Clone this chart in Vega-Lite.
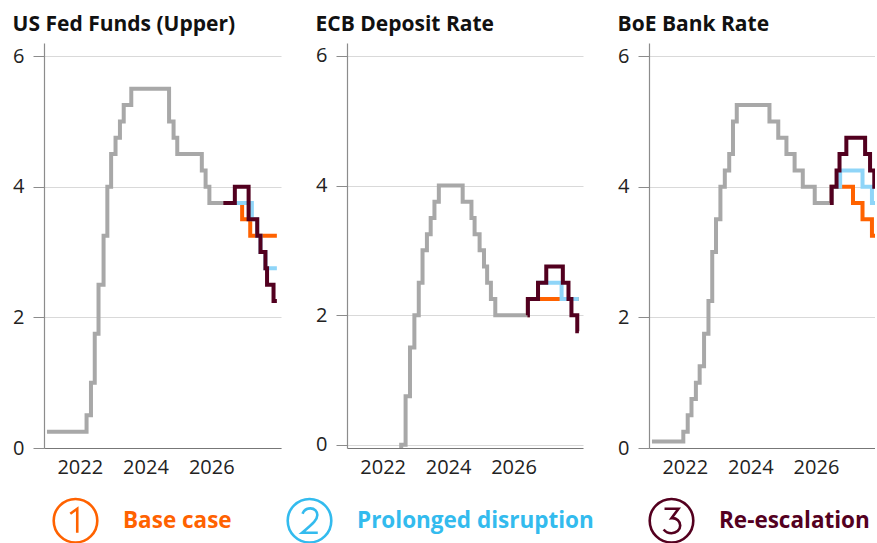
{
  "$schema": "https://vega.github.io/schema/vega-lite/v6.json",
  "padding": {"left": 12, "top": 14, "right": 0, "bottom": 0},
  "spacing": 34,
  "datasets": {
    "rates": [
      {"bank": "Fed", "scenario": "Actual", "date": "2021-01-01", "rate": 0.25},
      {"bank": "Fed", "scenario": "Actual", "date": "2022-03-17", "rate": 0.5},
      {"bank": "Fed", "scenario": "Actual", "date": "2022-05-05", "rate": 1.0},
      {"bank": "Fed", "scenario": "Actual", "date": "2022-06-16", "rate": 1.75},
      {"bank": "Fed", "scenario": "Actual", "date": "2022-07-28", "rate": 2.5},
      {"bank": "Fed", "scenario": "Actual", "date": "2022-09-22", "rate": 3.25},
      {"bank": "Fed", "scenario": "Actual", "date": "2022-11-03", "rate": 4.0},
      {"bank": "Fed", "scenario": "Actual", "date": "2022-12-15", "rate": 4.5},
      {"bank": "Fed", "scenario": "Actual", "date": "2023-02-02", "rate": 4.75},
      {"bank": "Fed", "scenario": "Actual", "date": "2023-03-23", "rate": 5.0},
      {"bank": "Fed", "scenario": "Actual", "date": "2023-05-04", "rate": 5.25},
      {"bank": "Fed", "scenario": "Actual", "date": "2023-07-27", "rate": 5.5},
      {"bank": "Fed", "scenario": "Actual", "date": "2024-09-19", "rate": 5.0},
      {"bank": "Fed", "scenario": "Actual", "date": "2024-11-08", "rate": 4.75},
      {"bank": "Fed", "scenario": "Actual", "date": "2024-12-19", "rate": 4.5},
      {"bank": "Fed", "scenario": "Actual", "date": "2025-09-18", "rate": 4.25},
      {"bank": "Fed", "scenario": "Actual", "date": "2025-10-30", "rate": 4.0},
      {"bank": "Fed", "scenario": "Actual", "date": "2025-12-11", "rate": 3.75},
      {"bank": "Fed", "scenario": "Actual", "date": "2026-05-15", "rate": 3.75},
      {"bank": "Fed", "scenario": "Base case", "date": "2026-05-15", "rate": 3.75},
      {"bank": "Fed", "scenario": "Base case", "date": "2026-12-10", "rate": 3.5},
      {"bank": "Fed", "scenario": "Base case", "date": "2027-03-10", "rate": 3.25},
      {"bank": "Fed", "scenario": "Base case", "date": "2027-12-31", "rate": 3.25},
      {"bank": "Fed", "scenario": "Prolonged disruption", "date": "2026-05-15", "rate": 3.75},
      {"bank": "Fed", "scenario": "Prolonged disruption", "date": "2027-03-28", "rate": 3.5},
      {"bank": "Fed", "scenario": "Prolonged disruption", "date": "2027-05-27", "rate": 3.25},
      {"bank": "Fed", "scenario": "Prolonged disruption", "date": "2027-07-02", "rate": 3.0},
      {"bank": "Fed", "scenario": "Prolonged disruption", "date": "2027-08-26", "rate": 2.75},
      {"bank": "Fed", "scenario": "Prolonged disruption", "date": "2027-12-31", "rate": 2.75},
      {"bank": "Fed", "scenario": "Re-escalation", "date": "2026-05-15", "rate": 3.75},
      {"bank": "Fed", "scenario": "Re-escalation", "date": "2026-09-20", "rate": 4.0},
      {"bank": "Fed", "scenario": "Re-escalation", "date": "2027-02-20", "rate": 3.5},
      {"bank": "Fed", "scenario": "Re-escalation", "date": "2027-05-27", "rate": 3.25},
      {"bank": "Fed", "scenario": "Re-escalation", "date": "2027-07-02", "rate": 3.0},
      {"bank": "Fed", "scenario": "Re-escalation", "date": "2027-08-26", "rate": 2.75},
      {"bank": "Fed", "scenario": "Re-escalation", "date": "2027-09-13", "rate": 2.5},
      {"bank": "Fed", "scenario": "Re-escalation", "date": "2027-11-24", "rate": 2.25},
      {"bank": "Fed", "scenario": "Re-escalation", "date": "2027-12-31", "rate": 2.25},

      {"bank": "ECB", "scenario": "Actual", "date": "2021-01-01", "rate": -0.5},
      {"bank": "ECB", "scenario": "Actual", "date": "2022-07-27", "rate": 0.0},
      {"bank": "ECB", "scenario": "Actual", "date": "2022-09-14", "rate": 0.75},
      {"bank": "ECB", "scenario": "Actual", "date": "2022-11-02", "rate": 1.5},
      {"bank": "ECB", "scenario": "Actual", "date": "2022-12-21", "rate": 2.0},
      {"bank": "ECB", "scenario": "Actual", "date": "2023-02-08", "rate": 2.5},
      {"bank": "ECB", "scenario": "Actual", "date": "2023-03-22", "rate": 3.0},
      {"bank": "ECB", "scenario": "Actual", "date": "2023-05-10", "rate": 3.25},
      {"bank": "ECB", "scenario": "Actual", "date": "2023-06-21", "rate": 3.5},
      {"bank": "ECB", "scenario": "Actual", "date": "2023-08-02", "rate": 3.75},
      {"bank": "ECB", "scenario": "Actual", "date": "2023-09-20", "rate": 4.0},
      {"bank": "ECB", "scenario": "Actual", "date": "2024-06-12", "rate": 3.75},
      {"bank": "ECB", "scenario": "Actual", "date": "2024-09-18", "rate": 3.5},
      {"bank": "ECB", "scenario": "Actual", "date": "2024-10-23", "rate": 3.25},
      {"bank": "ECB", "scenario": "Actual", "date": "2024-12-18", "rate": 3.0},
      {"bank": "ECB", "scenario": "Actual", "date": "2025-02-05", "rate": 2.75},
      {"bank": "ECB", "scenario": "Actual", "date": "2025-03-12", "rate": 2.5},
      {"bank": "ECB", "scenario": "Actual", "date": "2025-04-23", "rate": 2.25},
      {"bank": "ECB", "scenario": "Actual", "date": "2025-06-11", "rate": 2.0},
      {"bank": "ECB", "scenario": "Actual", "date": "2026-06-05", "rate": 2.0},
      {"bank": "ECB", "scenario": "Base case", "date": "2026-06-05", "rate": 2.0},
      {"bank": "ECB", "scenario": "Base case", "date": "2026-06-10", "rate": 2.25},
      {"bank": "ECB", "scenario": "Base case", "date": "2027-12-31", "rate": 2.25},
      {"bank": "ECB", "scenario": "Prolonged disruption", "date": "2026-06-05", "rate": 2.0},
      {"bank": "ECB", "scenario": "Prolonged disruption", "date": "2026-06-10", "rate": 2.25},
      {"bank": "ECB", "scenario": "Prolonged disruption", "date": "2026-10-01", "rate": 2.5},
      {"bank": "ECB", "scenario": "Prolonged disruption", "date": "2027-06-21", "rate": 2.25},
      {"bank": "ECB", "scenario": "Prolonged disruption", "date": "2027-12-31", "rate": 2.25},
      {"bank": "ECB", "scenario": "Re-escalation", "date": "2026-06-05", "rate": 2.0},
      {"bank": "ECB", "scenario": "Re-escalation", "date": "2026-06-10", "rate": 2.25},
      {"bank": "ECB", "scenario": "Re-escalation", "date": "2026-10-01", "rate": 2.5},
      {"bank": "ECB", "scenario": "Re-escalation", "date": "2027-01-01", "rate": 2.75},
      {"bank": "ECB", "scenario": "Re-escalation", "date": "2027-07-05", "rate": 2.5},
      {"bank": "ECB", "scenario": "Re-escalation", "date": "2027-09-06", "rate": 2.25},
      {"bank": "ECB", "scenario": "Re-escalation", "date": "2027-10-09", "rate": 2.0},
      {"bank": "ECB", "scenario": "Re-escalation", "date": "2027-12-13", "rate": 1.75},
      {"bank": "ECB", "scenario": "Re-escalation", "date": "2027-12-31", "rate": 1.75},

      {"bank": "BoE", "scenario": "Actual", "date": "2021-01-01", "rate": 0.1},
      {"bank": "BoE", "scenario": "Actual", "date": "2021-12-16", "rate": 0.25},
      {"bank": "BoE", "scenario": "Actual", "date": "2022-02-03", "rate": 0.5},
      {"bank": "BoE", "scenario": "Actual", "date": "2022-03-17", "rate": 0.75},
      {"bank": "BoE", "scenario": "Actual", "date": "2022-05-05", "rate": 1.0},
      {"bank": "BoE", "scenario": "Actual", "date": "2022-06-16", "rate": 1.25},
      {"bank": "BoE", "scenario": "Actual", "date": "2022-08-04", "rate": 1.75},
      {"bank": "BoE", "scenario": "Actual", "date": "2022-09-22", "rate": 2.25},
      {"bank": "BoE", "scenario": "Actual", "date": "2022-11-03", "rate": 3.0},
      {"bank": "BoE", "scenario": "Actual", "date": "2022-12-15", "rate": 3.5},
      {"bank": "BoE", "scenario": "Actual", "date": "2023-02-02", "rate": 4.0},
      {"bank": "BoE", "scenario": "Actual", "date": "2023-03-23", "rate": 4.25},
      {"bank": "BoE", "scenario": "Actual", "date": "2023-05-11", "rate": 4.5},
      {"bank": "BoE", "scenario": "Actual", "date": "2023-06-22", "rate": 5.0},
      {"bank": "BoE", "scenario": "Actual", "date": "2023-08-03", "rate": 5.25},
      {"bank": "BoE", "scenario": "Actual", "date": "2024-08-01", "rate": 5.0},
      {"bank": "BoE", "scenario": "Actual", "date": "2024-11-07", "rate": 4.75},
      {"bank": "BoE", "scenario": "Actual", "date": "2025-02-06", "rate": 4.5},
      {"bank": "BoE", "scenario": "Actual", "date": "2025-05-08", "rate": 4.25},
      {"bank": "BoE", "scenario": "Actual", "date": "2025-08-07", "rate": 4.0},
      {"bank": "BoE", "scenario": "Actual", "date": "2025-12-18", "rate": 3.75},
      {"bank": "BoE", "scenario": "Actual", "date": "2026-06-05", "rate": 3.75},
      {"bank": "BoE", "scenario": "Base case", "date": "2026-06-05", "rate": 3.75},
      {"bank": "BoE", "scenario": "Base case", "date": "2026-06-24", "rate": 4.0},
      {"bank": "BoE", "scenario": "Base case", "date": "2027-02-17", "rate": 3.75},
      {"bank": "BoE", "scenario": "Base case", "date": "2027-06-03", "rate": 3.5},
      {"bank": "BoE", "scenario": "Base case", "date": "2027-09-16", "rate": 3.25},
      {"bank": "BoE", "scenario": "Base case", "date": "2027-12-31", "rate": 3.25},
      {"bank": "BoE", "scenario": "Prolonged disruption", "date": "2026-06-05", "rate": 3.75},
      {"bank": "BoE", "scenario": "Prolonged disruption", "date": "2026-06-24", "rate": 4.0},
      {"bank": "BoE", "scenario": "Prolonged disruption", "date": "2026-09-27", "rate": 4.25},
      {"bank": "BoE", "scenario": "Prolonged disruption", "date": "2027-06-03", "rate": 4.0},
      {"bank": "BoE", "scenario": "Prolonged disruption", "date": "2027-09-16", "rate": 3.75},
      {"bank": "BoE", "scenario": "Prolonged disruption", "date": "2027-12-31", "rate": 3.75},
      {"bank": "BoE", "scenario": "Re-escalation", "date": "2026-06-05", "rate": 3.75},
      {"bank": "BoE", "scenario": "Re-escalation", "date": "2026-06-24", "rate": 4.0},
      {"bank": "BoE", "scenario": "Re-escalation", "date": "2026-08-18", "rate": 4.25},
      {"bank": "BoE", "scenario": "Re-escalation", "date": "2026-09-20", "rate": 4.5},
      {"bank": "BoE", "scenario": "Re-escalation", "date": "2026-12-05", "rate": 4.75},
      {"bank": "BoE", "scenario": "Re-escalation", "date": "2027-07-02", "rate": 4.5},
      {"bank": "BoE", "scenario": "Re-escalation", "date": "2027-08-26", "rate": 4.25},
      {"bank": "BoE", "scenario": "Re-escalation", "date": "2027-10-12", "rate": 4.0},
      {"bank": "BoE", "scenario": "Re-escalation", "date": "2027-12-31", "rate": 4.0}
    ]
  },
  "hconcat": [
    {
      "width": 237,
      "height": 405,
      "title": "US Fed Funds (Upper)",
      "data": {"name": "rates"},
      "transform": [{"filter": "datum.bank === 'Fed'"}],
      "encoding": {
        "x": {"field": "date", "type": "temporal",
              "scale": {"type": "utc", "domain": [{"year": 2020, "month": 11, "date": 29, "utc": true}, {"year": 2028, "month": 2, "date": 15, "utc": true}]},
              "axis": {"values": [{"year": 2022, "utc": true}, {"year": 2024, "utc": true}, {"year": 2026, "utc": true}], "format": "%Y", "formatType": "utc", "title": null, "ticks": false, "grid": false, "domainColor": "#777777", "labelPadding": 9}},
        "y": {"field": "rate", "type": "quantitative",
              "scale": {"domain": [0, 6.2], "nice": false, "zero": false},
              "axis": {"values": [0, 2, 4, 6], "title": null, "tickSize": 11, "labelPadding": 9, "grid": true}}
      },
      "layer": [
        {"transform": [{"filter": "datum.scenario === 'Actual'"}], "mark": {"type": "line", "interpolate": "step-after", "color": "#a8a8a8", "strokeWidth": 4, "clip": true}},
        {"transform": [{"filter": "datum.scenario === 'Base case'"}], "mark": {"type": "line", "interpolate": "step-after", "color": "#ff6200", "strokeWidth": 4, "clip": true}},
        {"transform": [{"filter": "datum.scenario === 'Prolonged disruption'"}], "mark": {"type": "line", "interpolate": "step-after", "color": "#8fd5f8", "strokeWidth": 4, "clip": true}},
        {"transform": [{"filter": "datum.scenario === 'Re-escalation'"}], "mark": {"type": "line", "interpolate": "step-after", "color": "#52001f", "strokeWidth": 4, "clip": true}},
        {
          "transform": [{"filter": "false"}],
          "mark": {"type": "point", "filled": false},
          "encoding": {
            "color": {"field": "scenario", "type": "nominal",
                      "scale": {"domain": ["Base case", "Prolonged disruption", "Re-escalation"], "range": ["#ff6200", "#33bbee", "#54001f"]},
                      "legend": {"orient": "none", "legendX": 8, "legendY": 454, "direction": "horizontal", "title": null, "padding": 0,
                                 "symbolSize": 1900, "symbolStrokeWidth": 2.6, "symbolOpacity": 1, "symbolFillColor": "transparent",
                                 "labelFont": "Open Sans", "labelFontSize": 22.5, "labelFontWeight": "bold", "labelOffset": 24, "columnPadding": 50, "labelLimit": 400,
                                 "labelColor": {"expr": "datum.value === 'Base case' ? '#ff6200' : datum.value === 'Prolonged disruption' ? '#33bbee' : '#54001f'"}}},
            "shape": {"field": "scenario", "type": "nominal",
                      "scale": {"domain": ["Base case", "Prolonged disruption", "Re-escalation"],
                                "range": [
                                  "M1,0A1,1,0,1,1,-1,0A1,1,0,1,1,1,0ZM-0.24,-0.32L0.08,-0.55L0.08,0.55",
                                  "M1,0A1,1,0,1,1,-1,0A1,1,0,1,1,1,0ZM-0.32,-0.32C-0.26,-0.5,-0.1,-0.57,0.04,-0.57C0.24,-0.57,0.36,-0.43,0.36,-0.26C0.36,-0.06,0.2,0.1,-0.34,0.55L0.38,0.55",
                                  "M1,0A1,1,0,1,1,-1,0A1,1,0,1,1,1,0ZM-0.32,-0.55L0.32,-0.55L0.0,-0.12C0.25,-0.14,0.4,0.04,0.4,0.22C0.4,0.43,0.22,0.57,0.0,0.57C-0.15,0.57,-0.28,0.5,-0.36,0.4"
                                ]},
                      "legend": {"orient": "none", "legendX": 8, "legendY": 454, "direction": "horizontal", "title": null, "padding": 0,
                                 "symbolSize": 1900, "symbolStrokeWidth": 2.6, "symbolOpacity": 1, "symbolFillColor": "transparent",
                                 "labelFont": "Open Sans", "labelFontSize": 22.5, "labelFontWeight": "bold", "labelOffset": 24, "columnPadding": 50, "labelLimit": 400,
                                 "labelColor": {"expr": "datum.value === 'Base case' ? '#ff6200' : datum.value === 'Prolonged disruption' ? '#33bbee' : '#54001f'"}}}
          }
        }
      ]
    },
    {
      "width": 236,
      "height": 405,
      "title": "ECB Deposit Rate",
      "data": {"name": "rates"},
      "transform": [{"filter": "datum.bank === 'ECB'"}],
      "encoding": {
        "x": {"field": "date", "type": "temporal",
              "scale": {"type": "utc", "domain": [{"year": 2020, "month": 11, "date": 29, "utc": true}, {"year": 2028, "month": 2, "date": 15, "utc": true}]},
              "axis": {"values": [{"year": 2022, "utc": true}, {"year": 2024, "utc": true}, {"year": 2026, "utc": true}], "format": "%Y", "formatType": "utc", "title": null, "ticks": false, "grid": false, "domainColor": "#777777", "labelPadding": 9}},
        "y": {"field": "rate", "type": "quantitative",
              "scale": {"domain": [-0.05, 6.2], "nice": false, "zero": false},
              "axis": {"values": [0, 2, 4, 6], "title": null, "tickSize": 11, "labelPadding": 9, "grid": true}}
      },
      "layer": [
        {"transform": [{"filter": "datum.scenario === 'Actual'"}], "mark": {"type": "line", "interpolate": "step-after", "color": "#a8a8a8", "strokeWidth": 4, "clip": true}},
        {"transform": [{"filter": "datum.scenario === 'Base case'"}], "mark": {"type": "line", "interpolate": "step-after", "color": "#ff6200", "strokeWidth": 4, "clip": true}},
        {"transform": [{"filter": "datum.scenario === 'Prolonged disruption'"}], "mark": {"type": "line", "interpolate": "step-after", "color": "#8fd5f8", "strokeWidth": 4, "clip": true}},
        {"transform": [{"filter": "datum.scenario === 'Re-escalation'"}], "mark": {"type": "line", "interpolate": "step-after", "color": "#52001f", "strokeWidth": 4, "clip": true}}
      ]
    },
    {
      "width": 226,
      "height": 405,
      "title": "BoE Bank Rate",
      "data": {"name": "rates"},
      "transform": [{"filter": "datum.bank === 'BoE'"}],
      "encoding": {
        "x": {"field": "date", "type": "temporal",
              "scale": {"type": "utc", "domain": [{"year": 2020, "month": 11, "date": 29, "utc": true}, {"year": 2027, "month": 10, "date": 20, "utc": true}]},
              "axis": {"values": [{"year": 2022, "utc": true}, {"year": 2024, "utc": true}, {"year": 2026, "utc": true}], "format": "%Y", "formatType": "utc", "title": null, "ticks": false, "grid": false, "domainColor": "#777777", "labelPadding": 9}},
        "y": {"field": "rate", "type": "quantitative",
              "scale": {"domain": [0, 6.2], "nice": false, "zero": false},
              "axis": {"values": [0, 2, 4, 6], "title": null, "tickSize": 11, "labelPadding": 9, "grid": true}}
      },
      "layer": [
        {"transform": [{"filter": "datum.scenario === 'Actual'"}], "mark": {"type": "line", "interpolate": "step-after", "color": "#a8a8a8", "strokeWidth": 4, "clip": true}},
        {"transform": [{"filter": "datum.scenario === 'Base case'"}], "mark": {"type": "line", "interpolate": "step-after", "color": "#ff6200", "strokeWidth": 4, "clip": true}},
        {"transform": [{"filter": "datum.scenario === 'Prolonged disruption'"}], "mark": {"type": "line", "interpolate": "step-after", "color": "#8fd5f8", "strokeWidth": 4, "clip": true}},
        {"transform": [{"filter": "datum.scenario === 'Re-escalation'"}], "mark": {"type": "line", "interpolate": "step-after", "color": "#52001f", "strokeWidth": 4, "clip": true}}
      ]
    }
  ],
  "resolve": {"scale": {"color": "shared", "shape": "shared"}, "legend": {"color": "shared", "shape": "shared"}},
  "config": {
    "view": {"stroke": null},
    "font": "Open Sans",
    "title": {"fontSize": 21, "fontWeight": "bold", "anchor": "start", "frame": "bounds", "color": "#111111", "offset": 8, "font": "Open Sans"},
    "axis": {"labelFont": "Open Sans", "labelFontSize": 20, "labelColor": "#222222", "domainColor": "#8c8c8c", "tickColor": "#8c8c8c", "gridColor": "#d9d9d9", "domainWidth": 1.2}
  }
}
